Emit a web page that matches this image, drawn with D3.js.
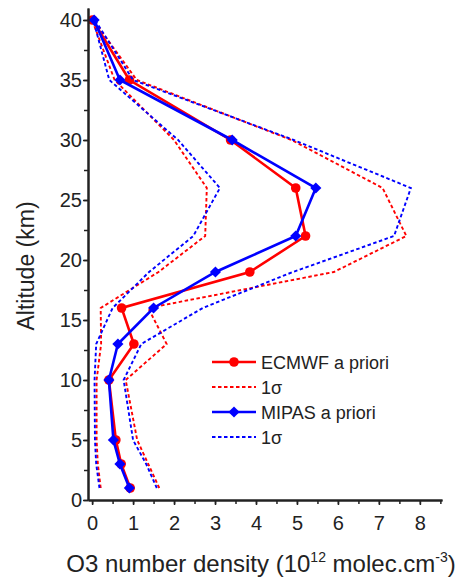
<!DOCTYPE html>
<html>
<head>
<meta charset="utf-8">
<script src="https://cdn.jsdelivr.net/npm/d3@7"></script>
<style>
  body { margin: 0; background: #fff; }
  text { font-family: "Liberation Sans", Arial, sans-serif; fill: #222; }
</style>
</head>
<body>
<svg id="grafico" width="462" height="577"></svg>
<script>
// altitudes (km) where the profiles are given
const altitudes = [1, 3, 5, 10, 13, 16, 19, 22, 26, 30, 35, 40];

// O3 number density, 10^12 molec/cm3
const ecmwf     = [0.93, 0.71, 0.58, 0.41, 1.02, 0.72, 3.85, 5.21, 4.97, 3.38, 0.91, 0.01];
const ecmwfLow  = [0.21, 0.14, 0.11, 0.11, 0.22, 0.21, 1.62, 2.76, 2.80, 2.00, 0.55, 0.00];
const ecmwfHigh = [1.64, 1.37, 1.10, 0.82, 1.82, 1.37, 5.90, 7.67, 7.09, 4.87, 1.09, 0.03];

const mipas     = [0.91, 0.68, 0.52, 0.41, 0.63, 1.50, 3.01, 4.97, 5.46, 3.42, 0.68, 0.05];
const mipasLow  = [0.18, 0.10, 0.07, 0.06, 0.10, 0.50, 1.39, 2.47, 3.12, 2.10, 0.42, 0.03];
const mipasHigh = [1.58, 1.32, 1.00, 0.77, 1.20, 2.70, 4.90, 7.37, 7.78, 4.92, 1.00, 0.07];

const xTicks = [0, 1, 2, 3, 4, 5, 6, 7, 8];
const yTicks = [0, 5, 10, 15, 20, 25, 30, 35, 40];
const legendLabels = ["ECMWF a priori", "1σ", "MIPAS a priori", "1σ"];

const svg = d3.select("#grafico");

const x = d3.scaleLinear().domain([-0.1, 8.54]).range([88, 442]);
const y = d3.scaleLinear().domain([0, 41]).range([500, 8]);

const linha = d3.line()
  .x((d, i) => x(d))
  .y((d, i) => y(altitudes[i]));

function desenharSerie(valores, baixo, alto, cor, marcador) {
  [baixo, alto].forEach(serie => {
    svg.append("path")
      .attr("d", linha(serie))
      .attr("fill", "none")
      .attr("stroke", cor)
      .attr("stroke-width", 1.9)
      .attr("stroke-dasharray", "3.5,2.5");
  });

  svg.append("path")
    .attr("d", linha(valores))
    .attr("fill", "none")
    .attr("stroke", cor)
    .attr("stroke-width", 2.6);

  const pontos = svg.append("g");
  valores.forEach((v, i) => {
    desenharMarcador(pontos, x(v), y(altitudes[i]), cor, marcador);
  });
}

function desenharMarcador(g, cx, cy, cor, marcador) {
  if (marcador === "circulo") {
    g.append("circle").attr("cx", cx).attr("cy", cy).attr("r", 4.8).attr("fill", cor);
  } else {
    g.append("path")
      .attr("d", d3.symbol(d3.symbolSquare, 62)())
      .attr("transform", `translate(${cx},${cy}) rotate(45)`)
      .attr("fill", cor);
  }
}

desenharSerie(ecmwf, ecmwfLow, ecmwfHigh, "#ff0000", "circulo");
desenharSerie(mipas, mipasLow, mipasHigh, "#0000ff", "diamante");

// eixos
const eixoX = svg.append("g").attr("transform", "translate(0,500)");
eixoX.call(d3.axisBottom(x).tickValues(d3.range(0, 8.51, 0.5)).tickSize(4).tickSizeOuter(0).tickFormat(""));
eixoX.call(g => g.append("g").call(
  d3.axisBottom(x).tickValues(xTicks).tickSize(5).tickSizeOuter(0).tickPadding(11).tickFormat(d3.format("d"))
));

const eixoY = svg.append("g").attr("transform", "translate(88,0)");
eixoY.call(d3.axisLeft(y).tickValues(d3.range(0, 41, 2.5)).tickSize(4).tickSizeOuter(0).tickFormat(""));
eixoY.call(g => g.append("g").call(
  d3.axisLeft(y).tickValues(yTicks).tickSize(5).tickSizeOuter(0).tickPadding(1).tickFormat(d3.format("d"))
));

svg.selectAll(".domain").attr("stroke", "#222").attr("stroke-width", 2);
svg.selectAll(".tick line").attr("stroke", "#222").attr("stroke-width", 1.5);
svg.selectAll(".tick text").attr("font-size", 20).attr("font-family", null);

// títulos
svg.append("text")
  .attr("transform", "translate(34,266) rotate(-90)")
  .attr("text-anchor", "middle")
  .attr("font-size", 23)
  .text("Altitude (km)");

const titulo = svg.append("text")
  .attr("x", 261)
  .attr("y", 572)
  .attr("text-anchor", "middle")
  .attr("font-size", 24);
titulo.append("tspan").text("O3 number density (10");
titulo.append("tspan").attr("font-size", 14).attr("dy", -10).text("12");
titulo.append("tspan").attr("dy", 10).text(" molec.cm");
titulo.append("tspan").attr("font-size", 14).attr("dy", -10).text("-3");
titulo.append("tspan").attr("dy", 10).text(")");

// legenda
const legendaCores = ["#ff0000", "#ff0000", "#0000ff", "#0000ff"];
const legendaTipos = ["circulo", "tracejado", "diamante", "tracejado"];
const legenda = svg.append("g").attr("transform", "translate(212,362)");
legendLabels.forEach((rotulo, i) => {
  const g = legenda.append("g").attr("transform", `translate(0,${i * 25})`);
  const tracejado = legendaTipos[i] === "tracejado";
  g.append("line")
    .attr("x1", 0).attr("x2", 44)
    .attr("stroke", legendaCores[i])
    .attr("stroke-width", tracejado ? 1.9 : 2.6)
    .attr("stroke-dasharray", tracejado ? "3.5,2.5" : null);
  if (!tracejado) desenharMarcador(g, 22, 0, legendaCores[i], legendaTipos[i]);
  g.append("text")
    .attr("x", 49)
    .attr("y", 6.5)
    .attr("font-size", 18)
    .text(rotulo);
});
</script>
</body>
</html>
